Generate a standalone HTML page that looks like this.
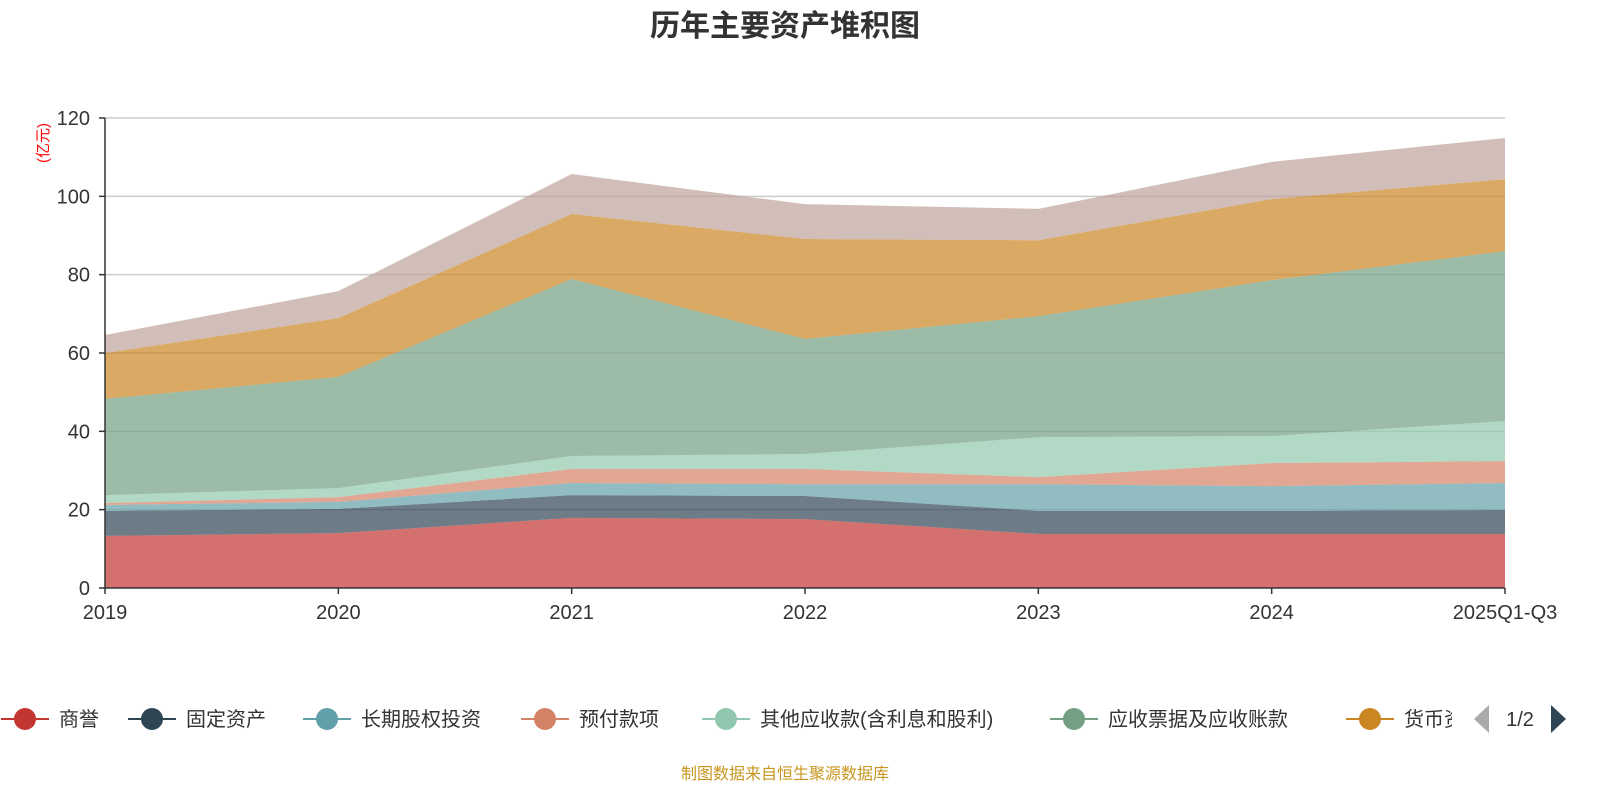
<!DOCTYPE html>
<html><head><meta charset="utf-8"><style>
body{margin:0;background:#fff;width:1600px;height:800px;overflow:hidden;font-family:"Liberation Sans","Noto Sans CJK SC",sans-serif}
</style></head><body>
<svg id="chart" width="1600" height="800" xmlns="http://www.w3.org/2000/svg" font-family="Liberation Sans, Noto Sans CJK SC, sans-serif">
<text x="785" y="36" text-anchor="middle" font-size="30" font-weight="bold" fill="#333">历年主要资产堆积图</text>
<text transform="translate(48,143) rotate(-90)" text-anchor="middle" font-size="15" fill="#ff0000">(亿元)</text>
<g id="grid"></g><g id="areas"></g><g id="axes"></g><g id="legend"></g>
<text x="785" y="779" text-anchor="middle" font-size="16" fill="#c8961e">制图数据来自恒生聚源数据库</text>
</svg>
<script>
const categories=["2019","2020","2021","2022","2023","2024","2025Q1-Q3"];
const seriesNames=["商誉","固定资产","长期股权投资","预付款项","其他应收款(含利息和股利)","应收票据及应收账款","货币资金","其他"];
const s0=[13.3,14.0,17.9,17.6,13.8,13.8,13.8];
const s1=[6.4,6.2,5.8,5.9,5.9,5.9,6.1];
const s2=[1.5,1.8,3.1,3.0,6.8,6.3,6.9];
const s3=[0.5,1.2,3.6,3.9,1.8,5.9,5.6];
const s4=[2.0,2.3,3.3,3.8,10.2,6.9,10.2];
const s5=[24.6,28.4,45.2,29.4,30.9,39.8,43.4];
const s6=[11.7,15.0,16.6,25.5,19.4,20.7,18.4];
const s7=[4.6,6.9,10.2,8.9,8.0,9.5,10.5];
const yTicks=[0,20,40,60,80,100,120];
const colors=["#c23531","#2f4554","#61a0a8","#d48265","#91c7ae","#749f83","#ca8622","#bda29a"];
const series=[s0,s1,s2,s3,s4,s5,s6,s7];
const NS="http://www.w3.org/2000/svg";
const X0=105,X1=1505,Y0=588,Y1=118;
const xs=i=>X0+(X1-X0)*i/(categories.length-1);
const ys=v=>Y0-(Y0-Y1)*v/120;
function mk(t,a,p){const e=document.createElementNS(NS,t);for(const k in a)e.setAttribute(k,a[k]);p.appendChild(e);return e;}
const grid=document.getElementById('grid'),areas=document.getElementById('areas'),axes=document.getElementById('axes'),leg=document.getElementById('legend');
yTicks.forEach(v=>{
 if(v>0){const l=mk('line',{x1:X0,x2:X1,y1:ys(v),y2:ys(v),stroke:'#ccc','stroke-width':1.5},grid);
 
 }
 const t=mk('text',{x:X0-15,y:ys(v)+7,'text-anchor':'end','font-size':20,fill:'#333'},axes);t.textContent=v;
 
 
 mk('line',{x1:X0-6,x2:X0,y1:ys(v),y2:ys(v),stroke:'#333','stroke-width':1.5},axes);
});
let base=categories.map(()=>0);
series.forEach((s,k)=>{
 const top=s.map((v,i)=>base[i]+v);
 let d='M'+categories.map((c,i)=>xs(i)+','+ys(top[i])).join(' L');
 for(let i=categories.length-1;i>=0;i--)d+=' L'+xs(i)+','+ys(base[i]);
 const p=mk('path',{d:d+'Z',fill:colors[k],'fill-opacity':0.7},areas);
 
 
 base=top;
});
mk('line',{x1:X0,x2:X0,y1:Y1,y2:Y0,stroke:'#333','stroke-width':1.5},axes);
mk('line',{x1:X0,x2:X1,y1:Y0,y2:Y0,stroke:'#333','stroke-width':1.5},axes);
categories.forEach((c,i)=>{
 mk('line',{x1:xs(i),x2:xs(i),y1:Y0,y2:Y0+6,stroke:'#333','stroke-width':1.5},axes);
 const t=mk('text',{x:xs(i),y:619,'text-anchor':'middle','font-size':20,fill:'#333'},axes);t.textContent=c;
 
 
});
const lx=[25,152,327,545,726,1074,1370];
lx.forEach((x,k)=>{
 const g=mk('g',{},leg);
 
 
 mk('line',{x1:x-24,x2:x+24,y1:719,y2:719,stroke:colors[k],'stroke-width':2},g);
 mk('circle',{cx:x,cy:719,r:11,fill:colors[k]},g);
 const t=mk('text',{x:x+34,y:726,'font-size':20,fill:'#333'},g);t.textContent=seriesNames[k];
});
const cp=mk('clipPath',{id:'lc'},leg);mk('rect',{x:0,y:690,width:1452,height:60},cp);
leg.lastElementChild; // clip last label
leg.querySelectorAll('g')[6].setAttribute('clip-path','url(#lc)');
const pl=mk('path',{d:'M1489,705 L1489,733 L1474,719Z',fill:'#aaa'},leg);


const pt=mk('text',{x:1520,y:726,'text-anchor':'middle','font-size':20,fill:'#333'},leg);pt.textContent='1/2';


const pr=mk('path',{d:'M1551,705 L1551,733 L1566,719Z',fill:'#2f4554'},leg);


</script>
</body></html>
